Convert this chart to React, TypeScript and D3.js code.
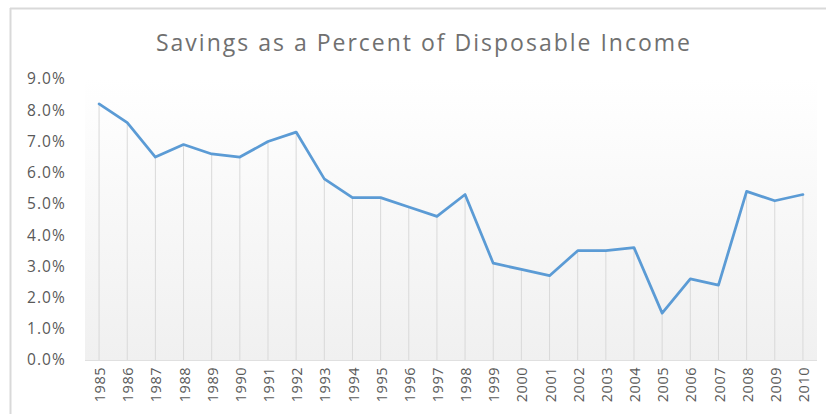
import React from "react";
import * as d3 from "d3";

const years: string[] = [
  "1985","1986","1987","1988","1989","1990","1991","1992","1993","1994",
  "1995","1996","1997","1998","1999","2000","2001","2002","2003","2004",
  "2005","2006","2007","2008","2009","2010",
];
const savings: number[] = [
  8.2, 7.6, 6.5, 6.9, 6.6, 6.5, 7.0, 7.3, 5.8, 5.2,
  5.2, 4.9, 4.6, 5.3, 3.1, 2.9, 2.7, 3.5, 3.5, 3.6,
  1.5, 2.6, 2.4, 5.4, 5.1, 5.3,
];
const yTicks: number[] = [0, 1, 2, 3, 4, 5, 6, 7, 8, 9];
const title = "Savings as a Percent of Disposable Income";

const W = 826;
const H = 414;
const plot = { left: 85, right: 817, top: 79, bottom: 360 };
const FONT = "'Open Sans', 'DejaVu Sans', sans-serif";

export default function App() {
  const x = d3.scaleBand<string>().domain(years).range([plot.left, plot.right]);
  const y = d3.scaleLinear().domain([0, 9]).range([plot.bottom, plot.top]);
  const cx = (yr: string) => (x(yr) as number) + x.bandwidth() / 2;
  const line = d3
    .line<number>()
    .x((_, i) => cx(years[i]))
    .y((d) => y(d));

  return (
    <svg
      width={W}
      height={H}
      style={{ position: "absolute", left: 0, top: 0, background: "#fff" }}
    >
      <defs>
        <linearGradient id="bg" x1="0" y1="0" x2="0" y2="1">
          <stop offset="0" stopColor="#ffffff" />
          <stop offset="1" stopColor="#f0f0f0" />
        </linearGradient>
      </defs>
      {/* chart border */}
      <line x1={10.5} y1={8} x2={10.5} y2={H} stroke="#d9d9d9" strokeWidth={2} />
      <line x1={10} y1={8.5} x2={W} y2={8.5} stroke="#d9d9d9" strokeWidth={2} />

      <text
        x={424}
        y={51}
        textAnchor="middle"
        fontFamily={FONT}
        fontSize={23}
        letterSpacing={2}
        fill="#707070"
      >
        {title}
      </text>

      <rect
        x={plot.left}
        y={plot.top}
        width={plot.right - plot.left}
        height={plot.bottom - plot.top}
        fill="url(#bg)"
      />

      {/* drop lines */}
      {savings.map((v, i) => (
        <line
          key={"d" + i}
          x1={cx(years[i])}
          x2={cx(years[i])}
          y1={y(v)}
          y2={y(0)}
          stroke="#d9d9d9"
          strokeWidth={1}
        />
      ))}

      <line
        x1={plot.left}
        x2={plot.right}
        y1={y(0) + 0.5}
        y2={y(0) + 0.5}
        stroke="#e0e0e0"
        strokeWidth={1}
      />

      {yTicks.map((t) => (
        <text
          key={"y" + t}
          x={66}
          y={y(t)}
          dy="0.35em"
          textAnchor="end"
          fontFamily={FONT}
          fontSize={15.5}
          letterSpacing={1.1}
          fill="#595959"
        >
          {d3.format(".1f")(t) + "%"}
        </text>
      ))}

      {years.map((yr) => (
        <text
          key={"x" + yr}
          transform={`translate(${cx(yr) + 1},${367}) rotate(-90)`}
          dy="0.35em"
          textAnchor="end"
          fontFamily={FONT}
          fontSize={14.5}
          letterSpacing={0.5}
          fill="#595959"
        >
          {yr}
        </text>
      ))}

      <path
        d={line(savings) || ""}
        fill="none"
        stroke="#5b9bd5"
        strokeWidth={2.75}
        strokeLinejoin="round"
        strokeLinecap="round"
      />
    </svg>
  );
}
